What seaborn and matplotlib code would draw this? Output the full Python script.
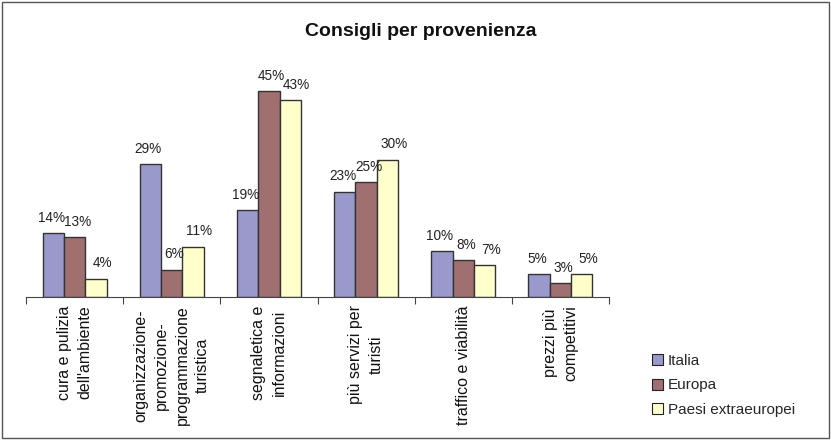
import matplotlib
matplotlib.use("Agg")
import matplotlib.pyplot as plt
import seaborn as sns
import pandas as pd
from matplotlib.patches import Rectangle

categories = [
    "cura e pulizia\ndell'ambiente",
    "organizzazione-\npromozione-\nprogrammazione\nturistica",
    "segnaletica e\ninformazioni",
    "più servizi per\nturisti",
    "traffico e viabilità",
    "prezzi più\ncompetitivi",
]
series = ["Italia", "Europa", "Paesi extraeuropei"]
italia = [14, 29, 19, 23, 10, 5]
europa = [13, 6, 45, 25, 8, 3]
extra = [4, 11, 43, 30, 7, 5]
colors = ["#9999CC", "#A07070", "#FFFFCC"]

rows = []
for name, vals in zip(series, [italia, europa, extra]):
    for cat, v in zip(categories, vals):
        rows.append({"categoria": cat, "provenienza": name, "valore": v})
df = pd.DataFrame(rows)

sns.set_theme(style="white")
plt.rcParams["font.family"] = ["Liberation Sans", "DejaVu Sans"]

fig = plt.figure(figsize=(8.31, 4.40), dpi=100)
ax = fig.add_axes([26 / 831, 1 - 297 / 440, (609 - 26) / 831, (297 - 68) / 440])

sns.barplot(data=df, x="categoria", y="valore", hue="provenienza",
            order=categories, hue_order=series, palette=colors,
            width=0.66, edgecolor="#333333", linewidth=1.0,
            saturation=1, ax=ax, legend=True)

# value labels, spread sideways a little so neighbours stay apart
x_nudge = [-1.5, 2.0, 4.5]
for cont, dx in zip(ax.containers, x_nudge):
    labels = [f"{int(round(b.get_height()))}%" for b in cont]
    anns = ax.bar_label(cont, labels=labels, padding=6, fontsize=9.8, color="#222222")
    for a in anns:
        a.xyann = (dx, a.xyann[1])

ax.set_ylim(0, 50)
ax.set_xlim(-0.5, 5.5)
ax.set_xlabel("")
ax.set_ylabel("")
ax.set_yticks([])
for side in ["top", "right", "left"]:
    ax.spines[side].set_visible(False)
ax.spines["bottom"].set_color("#444444")
ax.spines["bottom"].set_linewidth(0.8)

ax.set_xticks(range(len(categories)))
ax.set_xticklabels(categories, rotation=90, fontsize=11.5, va="top",
                   ha="center", multialignment="center", color="#111111",
                   linespacing=1.45)
ax.set_xticks([i - 0.5 for i in range(len(categories) + 1)], minor=True)
ax.tick_params(axis="x", which="major", length=0, pad=6)
ax.tick_params(axis="x", which="minor", length=5, width=0.8,
               color="#444444", direction="out", bottom=True)

leg = ax.legend(loc="upper left", bbox_to_anchor=(638 / 831, 1 - 340 / 440),
                bbox_transform=fig.transFigure, frameon=False, fontsize=11,
                handlelength=0.75, handleheight=0.75, handletextpad=0.3,
                labelspacing=0.7)
for h in leg.legend_handles:
    h.set_edgecolor("#222222")
    h.set_linewidth(0.8)

fig.text(421 / 831, 1 - 31 / 440, "Consigli per provenienza", ha="center",
         va="center", fontsize=14, fontweight="bold", color="#111111")

fig.patches.append(Rectangle((0.002, 0.004), 0.995, 0.992, transform=fig.transFigure,
                             fill=False, edgecolor="#555555", linewidth=1.0))

fig.savefig("out.png", dpi=100)
